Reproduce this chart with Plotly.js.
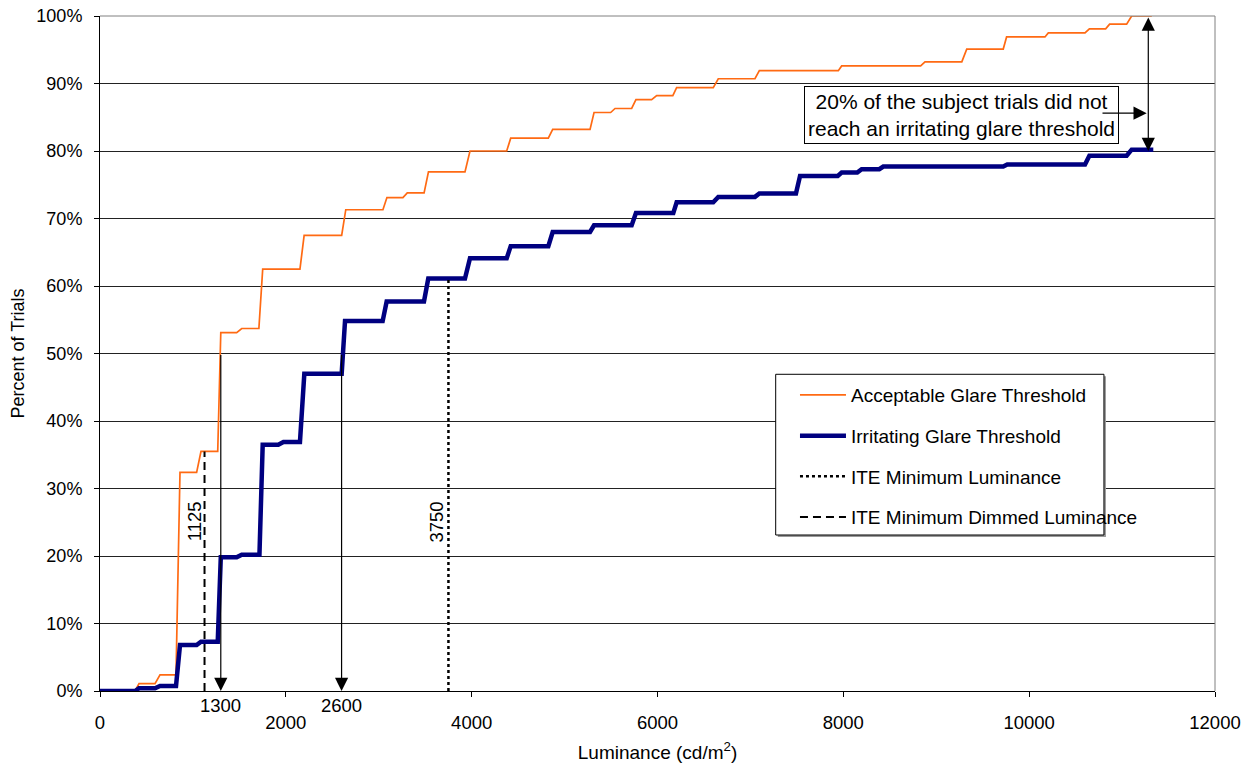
<!DOCTYPE html>
<html><head><meta charset="utf-8">
<script src="https://cdn.plot.ly/plotly-3.0.1.min.js"></script>
<style>html,body{margin:0;padding:0;background:#fff}#chart{width:1255px;height:772px}</style>
</head><body><div id="chart"></div>
<script>
// Acceptable Glare Threshold (luminance cd/m2, percent of trials)
const acceptableLum = [0,377,420,592,646,818,861,1040,1087,1267,1300,1471,1525,1710,1751,2152,2197,2601,2645,3045,3088,3260,3307,3488,3535,3928,3982,4377,4420,4825,4872,5274,5317,5496,5543,5722,5768,5937,5991,6165,6206,6600,6654,7049,7096,7946,7982,8832,8879,9275,9328,9721,9757,10170,10206,10601,10648,10823,10866,11049,11103,11320];
const acceptablePct = [0,0,1.1,1.1,2.4,2.4,32.4,32.4,35.5,35.5,53.1,53.1,53.7,53.7,62.5,62.5,67.5,67.5,71.3,71.3,73.1,73.1,73.8,73.8,76.9,76.9,80.0,80.0,81.9,81.9,83.2,83.2,85.7,85.7,86.3,86.3,87.6,87.6,88.2,88.2,89.4,89.4,90.7,90.7,91.9,91.9,92.6,92.6,93.2,93.2,95.1,95.1,96.9,96.9,97.5,97.5,98.1,98.1,98.8,98.8,100,100];
// Irritating Glare Threshold
const irritatingLum = [0,377,420,592,646,818,861,1040,1087,1267,1300,1471,1525,1716,1751,1919,1974,2152,2199,2601,2637,3042,3085,3487,3533,3928,3982,4377,4420,4825,4872,5274,5317,5722,5768,6170,6206,6600,6654,7049,7096,7490,7534,7940,7982,8150,8197,8387,8430,9721,9764,10601,10648,11049,11103,11336];
const irritatingPct = [0,0,0.4,0.4,0.75,0.75,6.8,6.8,7.3,7.3,19.8,19.8,20.2,20.2,36.5,36.5,36.9,36.9,47.0,47.0,54.8,54.8,57.7,57.7,61.1,61.1,64.1,64.1,65.9,65.9,68.0,68.0,69.0,69.0,70.8,70.8,72.4,72.4,73.2,73.2,73.7,73.7,76.3,76.3,76.8,76.8,77.3,77.3,77.7,77.7,78.0,78.0,79.3,79.3,80.2,80.2];
// ITE reference luminances
const iteMinLum = [3750, 3750];
const iteMinPct = [0, 61.1];
const iteDimLum = [1125, 1125];
const iteDimPct = [0, 35.5];
// arrow markers
const markerLum = [1300, 2600];
const markerTopPct = 50;
const gapLum = 11282;
const gapPct = [100, 80];
const noteText = '20% of the subject trials did not<br>reach an irritating glare threshold';
const xTicks = [0, 2000, 4000, 6000, 8000, 10000, 12000];

const FONT = 'Liberation Sans, Arial, sans-serif';

const traces = [
  {x: acceptableLum, y: acceptablePct, mode: 'lines', name: 'Acceptable Glare Threshold', legendgroup: 'a',
   line: {color: '#FF6A13', width: 1.7}},
  {x: irritatingLum, y: irritatingPct, mode: 'lines', name: 'Irritating Glare Threshold', legendgroup: 'b',
   line: {color: '#000080', width: 4.5}},
  {x: iteMinLum, y: iteMinPct, mode: 'lines', name: 'ITE Minimum Luminance', legendgroup: 'c',
   line: {color: '#000', width: 2.5, dash: '3px,3px'}},
  {x: iteDimLum, y: iteDimPct, mode: 'lines', name: 'ITE Minimum Dimmed Luminance', legendgroup: 'd',
   line: {color: '#000', width: 2, dash: '8px,5px'}}
];

const annotations = [];
markerLum.forEach(v => {
  annotations.push({x: v, y: 0, ax: v, ay: markerTopPct, xref: 'x', yref: 'y', axref: 'x', ayref: 'y',
    text: '', showarrow: true, arrowhead: 2, arrowsize: 2.2, arrowwidth: 1.2, arrowcolor: '#000', standoff: 0});
  annotations.push({x: v, y: 0, xref: 'x', yref: 'paper', text: String(v), showarrow: false,
    yanchor: 'middle', yshift: -14, font: {family: FONT, size: 18.5, color: '#000'}});
});
annotations.push({x: iteDimLum[0] - 100, y: 25.2, xref: 'x', yref: 'y', text: String(iteDimLum[0]), textangle: -90,
  showarrow: false, font: {family: FONT, size: 18.5, color: '#000'}});
annotations.push({x: iteMinLum[0] - 130, y: 25.0, xref: 'x', yref: 'y', text: String(iteMinLum[0]), textangle: -90,
  showarrow: false, font: {family: FONT, size: 18.5, color: '#000'}});
// note box
annotations.push({x: 9271, y: 85.3, xref: 'x', yref: 'y', text: noteText, showarrow: false,
  bordercolor: '#000', borderwidth: 1, borderpad: 3, bgcolor: '#fff',
  font: {family: FONT, size: 21, color: '#000'}});
// double arrow
annotations.push({x: gapLum, y: gapPct[1], ax: gapLum, ay: gapPct[0], xref: 'x', yref: 'y', axref: 'x', ayref: 'y',
  text: '', showarrow: true, arrowside: 'end+start', arrowhead: 2, startarrowhead: 2, arrowsize: 2.2, startarrowsize: 2.2,
  arrowwidth: 1.2, arrowcolor: '#000', standoff: 0, startstandoff: 0});
// pointer arrow
annotations.push({x: 11265, y: 85.6, ax: 10773, ay: 85.6, xref: 'x', yref: 'y', axref: 'x', ayref: 'y',
  text: '', showarrow: true, arrowhead: 2, arrowsize: 2.2, arrowwidth: 1.2, arrowcolor: '#000', standoff: 0});

const layout = {
  width: 1255, height: 772,
  margin: {l: 100, r: 40, t: 16, b: 81},
  paper_bgcolor: '#fff', plot_bgcolor: '#fff',
  font: {family: FONT, size: 18, color: '#000'},
  showlegend: true,
  legend: {x: 0.6233, y: 0.4665, xanchor: 'left', yanchor: 'top', bgcolor: 'rgba(0,0,0,0)', borderwidth: 0,
    itemwidth: 46, tracegroupgap: 13, font: {family: FONT, size: 19, color: '#000'}},
  xaxis: {range: [0, 12000], tickvals: xTicks, ticktext: xTicks.map(String), showgrid: false, zeroline: false,
    showline: true, linecolor: '#000', linewidth: 1, ticks: 'outside', ticklen: 5, tickcolor: '#000',
    ticklabelstandoff: 10, tickfont: {family: FONT, size: 18.5, color: '#000'},
    title: {text: 'Luminance (cd/m<sup>2</sup>)', standoff: 13, font: {family: FONT, size: 19, color: '#000'}}},
  yaxis: {range: [0, 100], dtick: 10, ticksuffix: '%', showgrid: true, gridcolor: '#222', gridwidth: 1, zeroline: false,
    showline: true, linecolor: '#000', linewidth: 1, ticks: 'outside', ticklen: 5, tickcolor: '#000',
    ticklabelstandoff: 8, tickfont: {family: FONT, size: 18, color: '#000'},
    title: {text: 'Percent of Trials', standoff: 7, font: {family: FONT, size: 18, color: '#000'}}},
  shapes: [
    {type: 'line', xref: 'paper', yref: 'paper', x0: 0, x1: 1, y0: 1, y1: 1, line: {color: '#808080', width: 1}, layer: 'above'},
    {type: 'line', xref: 'paper', yref: 'paper', x0: 1, x1: 1, y0: 0, y1: 1, line: {color: '#808080', width: 1}, layer: 'above'},
    {type: 'rect', xref: 'paper', yref: 'paper', x0: 0.6079, x1: 0.9022, y0: 0.2281, y1: 0.4662, fillcolor: '#999', line: {width: 0}, layer: 'above'},
    {type: 'rect', xref: 'paper', yref: 'paper', x0: 0.606, x1: 0.9004, y0: 0.2311, y1: 0.4692, fillcolor: '#fff', line: {color: '#000', width: 1}, layer: 'above'}
  ],
  annotations: annotations
};

Plotly.newPlot('chart', traces, layout, {displayModeBar: false, staticPlot: true});
</script>
</body></html>
